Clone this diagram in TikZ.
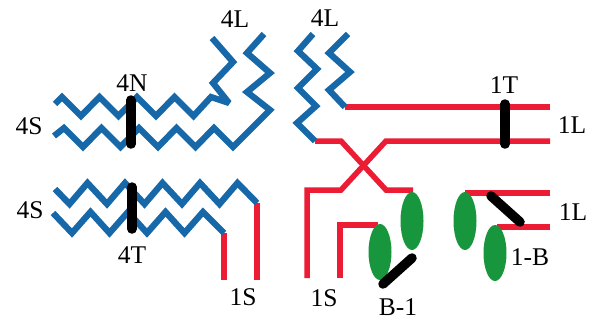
\documentclass[tikz,border=0pt]{standalone}
\usepackage{fontspec}
\setmainfont{Liberation Serif}
\usepackage{xcolor}

\definecolor{chainblue}{RGB}{22,104,168}
\definecolor{chainred}{RGB}{236,28,52}
\definecolor{headgreen}{RGB}{24,150,62}

\begin{document}
\begin{tikzpicture}[
    x=1pt, y=-1pt,
    lbl/.style={font=\fontsize{25.5}{27}\selectfont, inner sep=0pt},
    tail/.style={draw=chainblue, line width=6.3pt, line join=miter, miter limit=2},
    body/.style={draw=chainred, line width=5.5pt},
    bar/.style={draw=black, line width=9.5pt, line cap=round},
    head/.style={fill=headgreen}
]
    \useasboundingbox (0,0) rectangle (596,321);

    % red backbones
    \draw[body] (257,203) -- (257,280);
    \draw[body] (224,233) -- (224,280);
    \draw[body] (345,107) -- (550,107);
    \draw[body] (315,141) -- (341,141) -- (386,190) -- (413,190);
    \draw[body] (550,141) -- (386,141) -- (341,190) -- (307,190) -- (307,278);
    \draw[body] (378,225) -- (340,225) -- (340,278);
    \draw[body] (465,193) -- (550,193);
    \draw[body] (497,227) -- (550,227);

    % blue tails, upper left pair
    \draw[tail] (55,104) -- (62,97) -- (81,116) -- (99.5,97) -- (118.5,116) -- (137,97)
        -- (156,116) -- (174.5,97) -- (193.5,116) -- (211,97) -- (229,103) -- (213,83)
        -- (233,62) -- (212,38);
    \draw[tail] (54,136) -- (64,128) -- (83,147) -- (101.5,128) -- (120.5,147) -- (139,128)
        -- (158,147) -- (176.5,128) -- (195.5,147) -- (214,128) -- (233,147) -- (270,110)
        -- (247,92) -- (270,73) -- (247,53) -- (264,34);

    % blue tails, lower left pair
    \draw[tail] (55,189) -- (69.5,204) -- (87.5,183) -- (107,204) -- (125,183) -- (144.5,204)
        -- (162.5,183) -- (182,204) -- (200,183) -- (219.5,204) -- (237.5,183) -- (257,203);
    \draw[tail] (53,213) -- (72,233) -- (90.5,212) -- (109.5,233) -- (128,212) -- (147,233)
        -- (165.5,212) -- (184.5,233) -- (203,212) -- (224,233);

    % blue tails, right pair
    \draw[tail] (313,34) -- (298,51) -- (317,69) -- (298,88) -- (316,106) -- (297,123) -- (315,141);
    \draw[tail] (348,34) -- (329,53) -- (350,72) -- (329,90) -- (345,107);

    % green heads
    \fill[head] (412,221) ellipse [x radius=11.5, y radius=29];
    \fill[head] (380,252) ellipse [x radius=11.5, y radius=28];
    \fill[head] (465,221) ellipse [x radius=11.5, y radius=29];
    \fill[head] (495,253) ellipse [x radius=11.5, y radius=28];

    % black links
    \draw[bar] (131,100) -- (131,144);
    \draw[bar] (132,187) -- (132,229);
    \draw[bar] (505,104) -- (505,144);
    \draw[bar] (383,284) -- (412,258);
    \draw[bar] (491,196) -- (520,222);

    % labels
    \node[lbl] (l4a) at (235,19) {4L};
    \node[lbl] (l4b) at (325,18) {4L};
    \node[lbl] (n4) at (132,83) {4N};
    \node[lbl] (s4a) at (29,126) {4S};
    \node[lbl] (s4b) at (30,210) {4S};
    \node[lbl] (t4) at (132,255) {4T};
    \node[lbl] (s1a) at (243,297) {1S};
    \node[lbl] (s1b) at (324,298) {1S};
    \node[lbl] (b1) at (398,307) {B-1};
    \node[lbl] (onb) at (530,257) {1-B};
    \node[lbl] (t1) at (504,85) {1T};
    \node[lbl] (l1a) at (572,125) {1L};
    \node[lbl] (l1b) at (573,212) {1L};
\end{tikzpicture}
\end{document}
